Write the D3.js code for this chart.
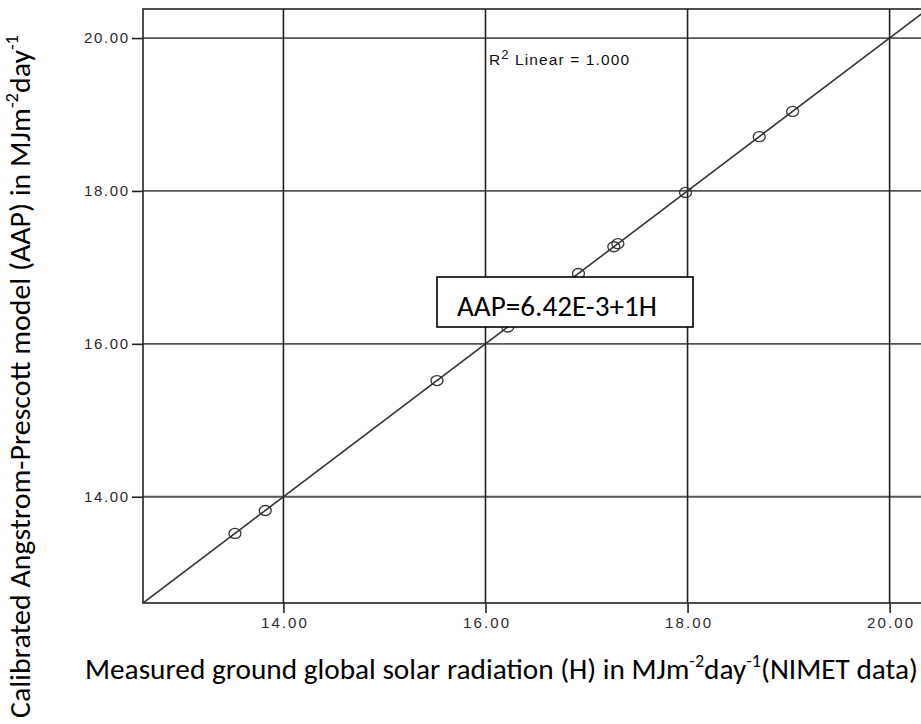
<!DOCTYPE html>
<html lang="en">

<head>
    <meta charset="UTF-8">
    <title>AAP vs measured H</title>
    <style>
        html,
        body {
            background-color: white;
            margin: 0;
            overflow: hidden;
        }

        .tick-label {
            font-family: Arial, "Liberation Sans", sans-serif;
            font-size: 15px;
            fill: #2a2a2a;
        }

        .title {
            font-family: Carlito, Lato, "Open Sans", sans-serif;
            font-size: 29px;
            fill: #000;
        }
    </style>
</head>

<body>
    <main></main>
    <script src="https://d3js.org/d3.v7.min.js"></script>
    <script>
        // - - - - - - - - - -
        // Data
        // - - - - - - - - - -
        const measuredH = [13.52, 13.82, 15.52, 16.22, 16.92, 17.27, 17.31, 17.98, 18.71, 19.04];
        const modelAAP = [13.52, 13.82, 15.52, 16.22, 16.92, 17.27, 17.31, 17.98, 18.71, 19.04];
        const xTicks = [14, 16, 18, 20];
        const yTicks = [14, 16, 18, 20];
        const fitLine = [12.61, 20.38];
        const equationText = 'AAP=6.42E-3+1H';

        !(function () {
            'use strict';

            let svg, x, y,
                canvas = { width: 921, height: 724 },
                plot = { left: 143, right: 928, top: 9, bottom: 603 };

            /** Set the svg container and scales */
            function setSvg() {
                svg = d3.select('main')
                    .append('svg')
                    .attr('width', canvas.width)
                    .attr('height', canvas.height);

                x = d3.scaleLinear().domain([12.61, 20.38]).range([plot.left, plot.right]);
                y = d3.scaleLinear().domain([12.61, 20.38]).range([plot.bottom, plot.top]);
            }

            /** Grid, frame and axes */
            function drawAxes() {
                let g = svg.append('g');

                // horizontal grid lines
                g.selectAll('.hgrid')
                    .data(yTicks).enter().append('line')
                    .attr('x1', plot.left).attr('x2', plot.right)
                    .attr('y1', d => y(d)).attr('y2', d => y(d))
                    .attr('stroke', '#555').attr('stroke-width', 1.8);

                // vertical grid lines
                g.selectAll('.vgrid')
                    .data(xTicks).enter().append('line')
                    .attr('x1', d => x(d)).attr('x2', d => x(d))
                    .attr('y1', plot.top).attr('y2', plot.bottom)
                    .attr('stroke', '#222').attr('stroke-width', 1.6);

                // frame
                g.append('rect')
                    .attr('x', plot.left).attr('y', plot.top)
                    .attr('width', plot.right - plot.left)
                    .attr('height', plot.bottom - plot.top)
                    .attr('fill', 'none')
                    .attr('stroke', '#222').attr('stroke-width', 1.6);

                // x axis
                let xAxis = d3.axisBottom(x).tickValues(xTicks)
                    .tickFormat(d3.format('.2f')).tickSize(10).tickPadding(4);
                svg.append('g')
                    .attr('transform', 'translate(0,' + plot.bottom + ')')
                    .call(xAxis)
                    .call(a => a.select('.domain').remove())
                    .call(a => a.selectAll('line').attr('stroke', '#222').attr('stroke-width', 1.6))
                    .call(a => a.selectAll('text').attr('class', 'tick-label')
                        .attr('font-family', null).attr('font-size', null)
                        .attr('textLength', 46).attr('lengthAdjust', 'spacing'));

                // y axis
                let yAxis = d3.axisLeft(y).tickValues(yTicks)
                    .tickFormat(d3.format('.2f')).tickSize(11).tickPadding(4);
                svg.append('g')
                    .attr('transform', 'translate(' + plot.left + ',0)')
                    .call(yAxis)
                    .call(a => a.select('.domain').remove())
                    .call(a => a.selectAll('line').attr('stroke', '#222').attr('stroke-width', 1.6))
                    .call(a => a.selectAll('text').attr('class', 'tick-label')
                        .attr('font-family', null).attr('font-size', null)
                        .attr('textLength', 44).attr('lengthAdjust', 'spacing'));
            }

            /** Fit line, markers and labels */
            function drawData() {
                svg.append('clipPath').attr('id', 'plot-clip')
                    .append('rect')
                    .attr('x', plot.left).attr('y', plot.top)
                    .attr('width', plot.right - plot.left)
                    .attr('height', plot.bottom - plot.top);

                svg.append('line')
                    .attr('clip-path', 'url(#plot-clip)')
                    .attr('x1', x(fitLine[0])).attr('y1', y(fitLine[0]))
                    .attr('x2', x(fitLine[1])).attr('y2', y(fitLine[1]))
                    .attr('stroke', '#333').attr('stroke-width', 1.6);

                svg.selectAll('.pt')
                    .data(measuredH).enter().append('ellipse')
                    .attr('cx', d => x(d))
                    .attr('cy', (d, i) => y(modelAAP[i]))
                    .attr('rx', 6).attr('ry', 5)
                    .attr('fill', 'none')
                    .attr('stroke', '#333').attr('stroke-width', 1.3);

                // R squared label
                let r2 = svg.append('text')
                    .attr('x', 489).attr('y', 65)
                    .attr('font-family', 'Arial, "Liberation Sans", sans-serif')
                    .attr('font-size', 15.5).attr('fill', '#111')
                    .attr('textLength', 140).attr('lengthAdjust', 'spacing');
                r2.append('tspan').text('R');
                r2.append('tspan').attr('font-size', 13).attr('dy', -6).text('2');
                r2.append('tspan').attr('dy', 6).text(' Linear = 1.000');

                // equation box
                svg.append('rect')
                    .attr('x', 437).attr('y', 277)
                    .attr('width', 256).attr('height', 50)
                    .attr('fill', 'white')
                    .attr('stroke', '#000').attr('stroke-width', 1.6);
                svg.append('text')
                    .attr('class', 'title')
                    .attr('x', 457).attr('y', 316)
                    .attr('font-size', 28)
                    .attr('textLength', 200).attr('lengthAdjust', 'spacingAndGlyphs')
                    .text(equationText);
            }

            /** Axis titles with superscripts */
            function drawTitles() {
                let xt = svg.append('text')
                    .attr('class', 'title')
                    .attr('x', 85).attr('y', 679)
                    .attr('textLength', 833).attr('lengthAdjust', 'spacingAndGlyphs');
                xt.append('tspan').text('Measured ground global solar radiation (H) in MJm');
                xt.append('tspan').attr('font-size', 18).attr('dy', -12).text('-2');
                xt.append('tspan').attr('dy', 12).text('day');
                xt.append('tspan').attr('font-size', 18).attr('dy', -12).text('-1');
                xt.append('tspan').attr('dy', 12).text('(NIMET data)');

                let yt = svg.append('text')
                    .attr('class', 'title')
                    .attr('transform', 'translate(30,718) rotate(-90)')
                    .attr('textLength', 683).attr('lengthAdjust', 'spacingAndGlyphs');
                yt.append('tspan').text('Calibrated Angstrom-Prescott model (AAP) in MJm');
                yt.append('tspan').attr('font-size', 18).attr('dy', -12).text('-2');
                yt.append('tspan').attr('dy', 12).text('day');
                yt.append('tspan').attr('font-size', 18).attr('dy', -12).text('-1');
            }

            function main() {
                setSvg();
                drawAxes();
                drawData();
                drawTitles();
            }

            main();
        }());
    </script>
</body>

</html>
